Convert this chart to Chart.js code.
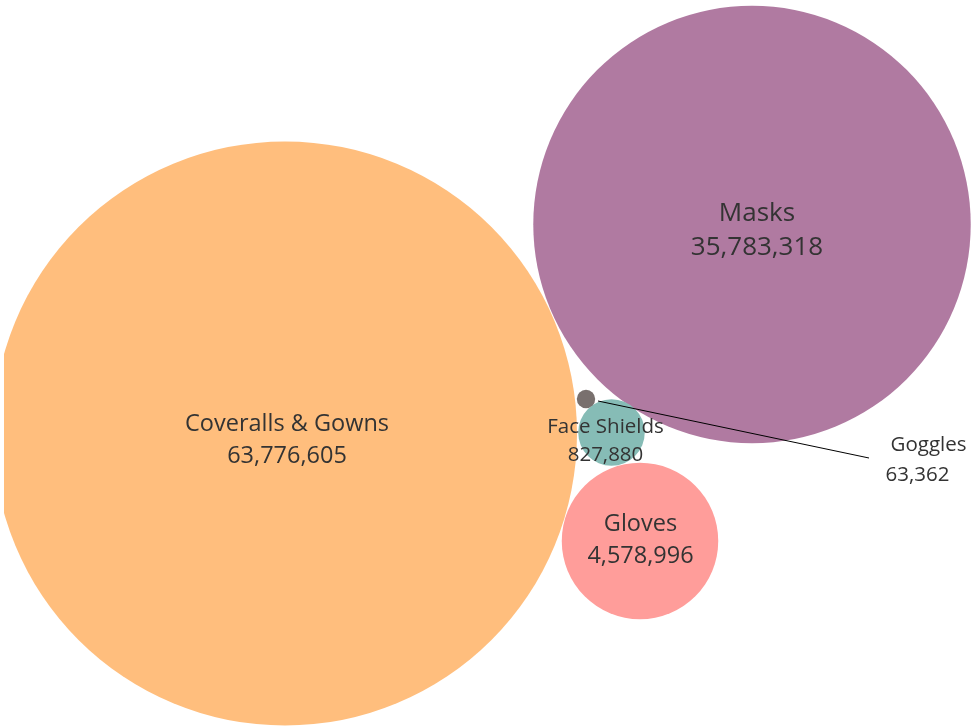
<!DOCTYPE html>
<html><head><meta charset="utf-8">
<script src="https://cdn.jsdelivr.net/npm/chart.js@4/dist/chart.umd.min.js"></script>
<style>html,body{margin:0;padding:0;background:#fff;overflow:hidden}</style>
</head><body>
<canvas id="c" width="973" height="726" style="display:block;width:973px;height:726px"></canvas>
<script>
// ---- data ----
const categories = ["Coveralls & Gowns", "Masks", "Gloves", "Face Shields", "Goggles"];
const values = [63776605, 35783318, 4578996, 827880, 63362];
const valueLabels = ["63,776,605", "35,783,318", "4,578,996", "827,880", "63,362"];

// ---- layout (packed positions, in canvas units) ----
const centerX = [285, 752, 640, 611.5, 586];
const centerY = [433.5, 224.5, 541, 432.5, 399];
const colors = ["#FFBE7D", "#B07AA1", "#FF9D9A", "#86BCB6", "#79706E"];
const maxRadius = 292;
// label placement: [dx, dy line1 (cap centre), dy line2, font size]
const labelStyle = [
  [2, -10.5, 21.5, 23.5],
  [5, -12.5, 21.5, 26],
  [0.5, -18, 14, 23.5],
  [-6, -6.5, 21.5, 20.5],
  null
];
const FONT = '"Open Sans", sans-serif';
const TEXT = '#333333';

const maxV = Math.max(...values);
const points = values.map((v, i) => ({ x: centerX[i], y: centerY[i], r: maxRadius * Math.sqrt(v / maxV) }));

const labelPlugin = {
  id: 'labels',
  afterDatasetsDraw(chart) {
    const ctx = chart.ctx;
    const meta = chart.getDatasetMeta(0);
    ctx.save();
    ctx.fillStyle = TEXT;
    ctx.textAlign = 'center';
    ctx.textBaseline = 'alphabetic';
    meta.data.forEach((el, i) => {
      const s = labelStyle[i];
      if (!s) return;
      const [dx, d1, d2, fs] = s;
      ctx.font = fs + 'px ' + FONT;
      const cap = fs * 0.36;
      ctx.fillText(categories[i], el.x + dx, el.y + d1 + cap);
      ctx.fillText(valueLabels[i], el.x + dx, el.y + d2 + cap);
    });
    // Goggles: leader line and outside label
    const g = meta.data[4];
    ctx.strokeStyle = '#000';
    ctx.lineWidth = 1;
    ctx.beginPath();
    ctx.moveTo(g.x + 12, g.y + 2);
    ctx.lineTo(869, 458);
    ctx.stroke();
    const fs = 20.5;
    ctx.font = fs + 'px ' + FONT;
    ctx.fillText(categories[4], 928.5, 444 + fs * 0.36);
    ctx.fillText(valueLabels[4], 917.5, 474 + fs * 0.36);
    ctx.restore();
  }
};

new Chart(document.getElementById('c'), {
  type: 'bubble',
  data: {
    labels: categories,
    datasets: [{
      data: points,
      backgroundColor: colors,
      borderWidth: 0,
      hoverBorderWidth: 0,
      hoverRadius: 0,
      clip: { left: -4, top: 0, right: 0, bottom: 0 }
    }]
  },
  options: {
    responsive: false,
    animation: false,
    devicePixelRatio: 1,
    events: [],
    layout: { padding: 0, autoPadding: false },
    plugins: { legend: { display: false }, tooltip: { enabled: false } },
    scales: {
      x: { type: 'linear', min: 0, max: 973, display: false },
      y: { type: 'linear', min: 0, max: 726, reverse: true, display: false }
    }
  },
  plugins: [labelPlugin]
});
</script>
</body></html>
